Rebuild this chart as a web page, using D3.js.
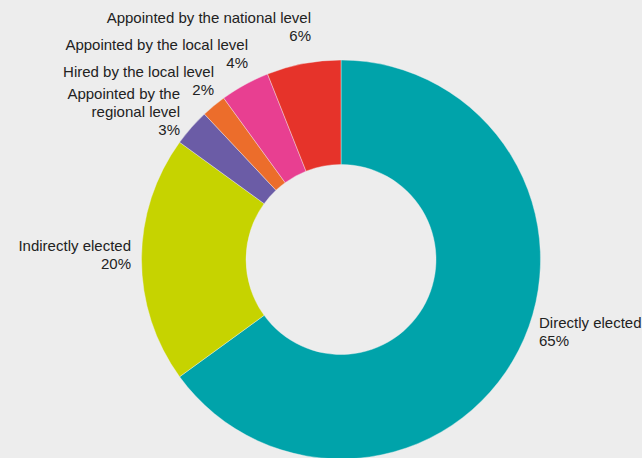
<!DOCTYPE html>
<html>
<head>
<meta charset="utf-8">
<script src="https://cdn.jsdelivr.net/npm/d3@7/dist/d3.min.js"></script>
<style>
  html, body { margin: 0; padding: 0; background: #ededed; }
  svg { display: block; }
  text { font-family: "Liberation Sans", Arial, sans-serif; font-size: 15px; fill: #222; }
</style>
</head>
<body>
<svg id="chart" width="642" height="458"></svg>
<script>
// Selection method of local leaders, share of total (%)
const categories = [
  "Directly elected",
  "Indirectly elected",
  "Appointed by the regional level",
  "Hired by the local level",
  "Appointed by the local level",
  "Appointed by the national level"
];
const values = [65, 20, 3, 2, 4, 6];
const colors = ["#00a3aa", "#c6d300", "#6b5ca6", "#ec6d2b", "#e83f91", "#e6332a"];

// Label text lines (category name split where it wraps)
const labelLines = [
  ["Directly elected"],
  ["Indirectly elected"],
  ["Appointed by the", "regional level"],
  ["Hired by the local level"],
  ["Appointed by the local level"],
  ["Appointed by the national level"]
];
// Label anchor points: [x, baseline of first line, text-anchor]
const labelPos = [
  [539, 328, "start"],
  [131, 251, "end"],
  [180, 99, "end"],
  [214, 77, "end"],
  [248, 49.5, "end"],
  [311, 22.5, "end"]
];

const svg = d3.select("#chart");
const cx = 341, cy = 259.5, outerR = 199.5, innerR = 95;
const lineH = 18;

const pie = d3.pie().sort(null).value(d => d)(values);
const arc = d3.arc().innerRadius(innerR).outerRadius(outerR);

const g = svg.append("g").attr("transform", `translate(${cx},${cy})`);
g.selectAll("path")
  .data(pie)
  .join("path")
  .attr("d", arc)
  .attr("fill", (d, i) => colors[i])
  .attr("stroke", "#f2f2f2")
  .attr("stroke-width", 0.4);

const labels = svg.append("g");
categories.forEach((c, i) => {
  const [x, y, anchor] = labelPos[i];
  const t = labels.append("text")
    .attr("x", x).attr("y", y)
    .attr("text-anchor", anchor);
  labelLines[i].forEach((ln, k) => {
    t.append("tspan").attr("x", x).attr("dy", k === 0 ? 0 : lineH).text(ln);
  });
  t.append("tspan").attr("x", x).attr("dy", lineH).text(values[i] + "%");
});
</script>
</body>
</html>
